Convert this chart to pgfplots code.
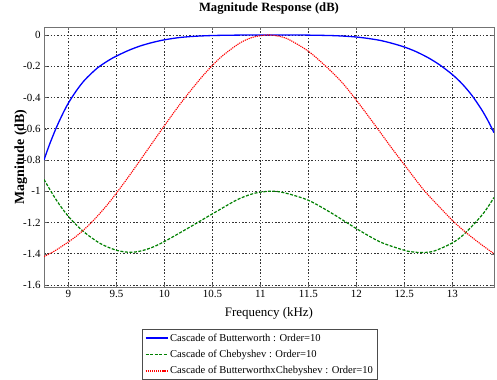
\documentclass[border=0pt]{standalone}
\usepackage{fontspec}
\setmainfont{Liberation Serif}
\usepackage{pgfplots}
\pgfplotsset{compat=1.18}
\definecolor{mblue}{rgb}{0,0,1}
\definecolor{mgreen}{rgb}{0,0.5,0}
\definecolor{mred}{rgb}{1,0,0}
\begin{document}
\begin{tikzpicture}
\path[use as bounding box] (-44bp,-93bp) rectangle (453bp,287bp);
\begin{axis}[
  at={(0,0)}, anchor=south west,
  scale only axis, width=450bp, height=260bp,
  xmin=8.745, xmax=13.435, ymin=-1.613, ymax=0.051,
  xtick={9,9.5,10,10.5,11,11.5,12,12.5,13},
  ytick={-1.6,-1.4,-1.2,-1,-0.8,-0.6,-0.4,-0.2,0},
  /pgf/number format/assume math mode=true,
  ticklabel style={font=\fontsize{11}{13}\selectfont},
  grid=major,
  major grid style={black!80, dash pattern=on 1.5bp off 1.8bp, line width=0.5bp},
  axis line style={black!55, line width=0.8bp},
  tick align=inside, major tick length=3bp, tick style={black!60},
  title={Magnitude Response (dB)},
  title style={at={(axis description cs:0.5,1)}, anchor=base, yshift=9.7bp, font=\bfseries\fontsize{12.7}{15}\selectfont},
  xlabel={Frequency (kHz)},
  xlabel style={at={(axis description cs:0.5,0)}, anchor=base, yshift=-29.7bp, font=\fontsize{13}{15}\selectfont},
  ylabel={Magnitude (dB)},
  ylabel style={at={(axis description cs:-0.0444,0.5)}, anchor=base, font=\bfseries\fontsize{14}{16}\selectfont},
  legend cell align=left,
  legend style={at={(axis description cs:0.218,-0.163)}, anchor=north west, draw=black!70, line width=0.6bp,
    font=\fontsize{10.6}{12}\selectfont, inner xsep=2.5bp, inner ysep=2bp, row sep=3.5bp},
  legend image code/.code={\draw[#1] (0bp,0bp) -- (22bp,0bp);},
]
\addplot[mblue, line width=1.3bp, smooth] coordinates {
(8.745,-0.80) (8.80,-0.705) (8.87,-0.598) (8.94,-0.505) (9.0,-0.435) (9.08,-0.359)
(9.17,-0.288) (9.3,-0.212) (9.42,-0.162) (9.5,-0.135) (9.625,-0.099) (9.75,-0.070)
(9.875,-0.048) (10.0,-0.031) (10.15,-0.017) (10.3,-0.009) (10.5,-0.0035) (10.75,-0.001)
(11.0,0) (11.25,0) (11.5,-0.001) (11.75,-0.004) (11.9,-0.0085) (12.0,-0.013)
(12.12,-0.022) (12.25,-0.035) (12.37,-0.053) (12.5,-0.077) (12.62,-0.106) (12.75,-0.146)
(12.87,-0.192) (13.0,-0.253) (13.1,-0.311) (13.2,-0.383) (13.3,-0.472) (13.37,-0.546)
(13.435,-0.625)
};
\addlegendentry{Cascade of Butterworth : Order=10}
\addplot[mgreen, line width=1.2bp, dash pattern=on 3bp off 1.5bp, smooth] coordinates {
(8.745,-0.925) (8.875,-1.058) (9.0,-1.162) (9.15,-1.255) (9.33,-1.334) (9.5,-1.378)
(9.64,-1.391) (9.75,-1.383) (9.87,-1.36) (10.0,-1.322) (10.25,-1.235) (10.5,-1.145)
(10.75,-1.057) (10.9,-1.02) (11.0,-1.006) (11.12,-1.0) (11.25,-1.01) (11.5,-1.058)
(11.75,-1.143) (12.0,-1.239) (12.25,-1.325) (12.5,-1.378) (12.58,-1.388) (12.66,-1.392)
(12.8,-1.385) (13.0,-1.331) (13.13,-1.271) (13.32,-1.145) (13.435,-1.04)
};
\addlegendentry{Cascade of Chebyshev : Order=10}
\addplot[mred, line width=1.1bp, dash pattern=on 1.2bp off 0.9bp, smooth] coordinates {
(8.745,-1.418) (8.87,-1.377) (9.075,-1.291) (9.24,-1.200) (9.415,-1.079) (9.585,-0.942)
(9.76,-0.791) (9.925,-0.646) (10.08,-0.512) (10.21,-0.405) (10.38,-0.276) (10.5,-0.195)
(10.61,-0.131) (10.785,-0.052) (10.925,-0.014) (11.08,0) (11.2,-0.009) (11.3,-0.03)
(11.5,-0.104) (11.69,-0.205) (11.85,-0.303) (12.0,-0.417) (12.12,-0.515) (12.24,-0.615)
(12.37,-0.725) (12.5,-0.83) (12.7,-0.99) (12.85,-1.09) (13.0,-1.186) (13.13,-1.258)
(13.3,-1.34) (13.435,-1.40)
};
\addlegendentry{Cascade of ButterworthxChebyshev : Order=10}
\end{axis}
\end{tikzpicture}
\end{document}
